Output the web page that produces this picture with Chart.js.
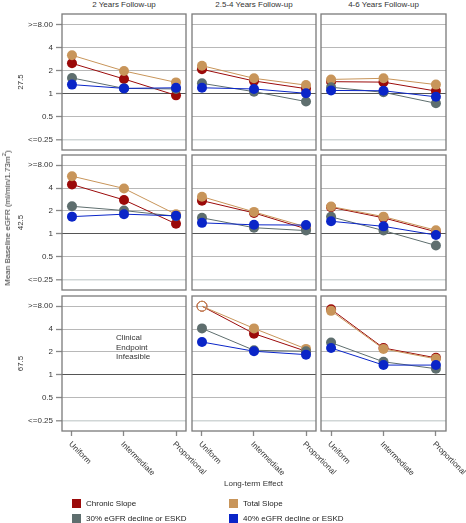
<!DOCTYPE html>
<html>
<head>
<meta charset="utf-8">
<script src="https://cdn.jsdelivr.net/npm/chart.js@4"></script>
<style>
  html, body { margin:0; padding:0; background:#fff; }
  body { width:466px; height:523px; position:relative; overflow:hidden; font-family:"Liberation Sans", Arial, sans-serif; color:#222; }
  .abs { position:absolute; white-space:nowrap; font-size:8px; line-height:10px; }
  canvas { position:absolute; }
</style>
</head>
<body>
<script>
// ---------- data ----------
const categories = ['Uniform', 'Intermediate', 'Proportional'];
const followUps = ['2 Years Follow-up', '2.5-4 Years Follow-up', '4-6 Years Follow-up'];
const baselines = ['27.5', '42.5', '67.5'];
const seriesNames = ['Chronic Slope', 'Total Slope', '30% eGFR decline or ESKD', '40% eGFR decline or ESKD'];
const yTicks = [0.25, 0.5, 1, 2, 4, 8];

// values per follow-up column: [2y, 2.5-4y, 4-6y], each [Uniform, Intermediate, Proportional]
const chronic275 = [[2.47, 1.54, 0.94], [2.06, 1.45, 1.15], [1.42, 1.40, 1.07]];
const total275   = [[3.15, 1.96, 1.39], [2.30, 1.57, 1.28], [1.52, 1.57, 1.30]];
const egfr30_275 = [[1.59, 1.16, 1.14], [1.35, 1.05, 0.78], [1.20, 1.03, 0.74]];
const egfr40_275 = [[1.30, 1.16, 1.18], [1.18, 1.14, 1.00], [1.09, 1.08, 0.90]];

const chronic425 = [[4.46, 2.79, 1.35], [2.73, 1.88, 1.16], [2.23, 1.62, 1.06]];
const total425   = [[5.74, 3.95, 1.80], [3.08, 1.94, 1.23], [2.28, 1.68, 1.11]];
const egfr30_425 = [[2.30, 2.02, 1.70], [1.62, 1.20, 1.10], [1.67, 1.10, 0.70]];
const egfr40_425 = [[1.68, 1.81, 1.72], [1.39, 1.31, 1.30], [1.46, 1.25, 0.96]];

const chronic675 = [null, [8, 3.48, 2.04], [7.30, 2.25, 1.67]];
const total675   = [null, [8, 4.08, 2.19], [6.95, 2.19, 1.62]];
const egfr30_675 = [null, [4.08, 2.10, 2.04], [2.65, 1.48, 1.20]];
const egfr40_675 = [null, [2.70, 2.04, 1.84], [2.25, 1.34, 1.34]];

const infeasibleText = ['Clinical', 'Endpoint', 'Infeasible'];

// ---------- styling / layout ----------
const colors = ['#9b0a0a', '#c8955a', '#5e6e6e', '#0a25c8'];
const rowData = [
  [chronic275, total275, egfr30_275, egfr40_275],
  [chronic425, total425, egfr30_425, egfr40_425],
  [chronic675, total675, egfr30_675, egfr40_675]
];
const colLeft = [62, 192, 321];
const colW = [124, 124, 125];
const rowTop = [14, 155, 296];
const rowH = [136, 135, 135];
const YW = 62;
const yMin = Math.pow(2, -2.465), yMax = Math.pow(2, 3.448);

Chart.defaults.font.family = '"Liberation Sans", Arial, sans-serif';
Chart.defaults.font.size = 8;
Chart.defaults.color = '#333';
Chart.defaults.animation = false;

function addText(txt, style) {
  const d = document.createElement('div');
  d.className = 'abs';
  d.textContent = txt;
  Object.assign(d.style, style);
  document.body.appendChild(d);
  return d;
}

const panelPlugin = {
  id: 'panel',
  afterDraw(chart, args, opts) {
    const {ctx, chartArea: a} = chart;
    ctx.save();
    ctx.strokeStyle = '#7a7a7a';
    ctx.lineWidth = 1.3;
    ctx.strokeRect(a.left, a.top, a.right - a.left, a.bottom - a.top);
    if (opts.xLabels) {
      const xs = chart.scales.x;
      ctx.fillStyle = '#333';
      ctx.font = '8px "Liberation Sans", Arial, sans-serif';
      ctx.textAlign = 'left';
      ctx.textBaseline = 'middle';
      categories.forEach((c, i) => {
        const px = xs.getPixelForValue(i);
        ctx.save();
        ctx.translate(px - 2, a.bottom + 12);
        ctx.rotate(Math.PI / 4);
        ctx.fillText(c, 0, 0);
        ctx.restore();
      });
    }
    ctx.restore();
  }
};

function makeChart(r, c) {
  const first = c === 0;
  const last = r === 2;
  const padL = first ? 0 : 1;
  const padB = last ? 60 : 1;
  const padR = last ? 45 : 1;
  const xh = last ? 5 : 0;
  const yw = first ? YW : 0;
  const cw = padL + yw + colW[c] + padR;
  const ch = 1 + rowH[r] + xh + padB;
  const cv = document.createElement('canvas');
  cv.width = cw; cv.height = ch;
  cv.style.width = cw + 'px'; cv.style.height = ch + 'px';
  cv.style.left = (colLeft[c] - yw - padL) + 'px';
  cv.style.top = (rowTop[r] - 1) + 'px';
  document.body.appendChild(cv);

  const series = rowData[r];
  const datasets = [];
  if (series[0][c]) {
    const orderIdx = [3, 2, 1, 0]; // first listed is drawn on top
    orderIdx.forEach(s => {
      const vals = series[s][c];
      datasets.push({
        label: seriesNames[s],
        data: vals.map((v, i) => ({x: i, y: v})),
        borderColor: colors[s],
        borderWidth: 1,
        pointRadius: 5,
        pointHoverRadius: 5,
        pointBorderWidth: vals.map(v => v >= 8 ? 1 : 0),
        pointBorderColor: colors[s],
        pointBackgroundColor: vals.map(v => v >= 8 ? 'rgba(255,255,255,0)' : colors[s]),
        tension: 0,
        clip: 6
      });
    });
  }

  new Chart(cv, {
    type: 'line',
    data: { datasets },
    options: {
      responsive: false,
      animation: false,
      layout: { autoPadding: false, padding: { left: padL, right: padR, top: 1, bottom: padB } },
      plugins: { legend: { display: false }, tooltip: { enabled: false }, panel: { xLabels: last } },
      scales: {
        x: {
          type: 'linear',
          min: -0.192, max: 2.192,
          display: last,
          afterBuildTicks: s => { s.ticks = categories.map((_, i) => ({value: i})); },
          afterFit: s => { s.height = xh; s.paddingLeft = 0; s.paddingRight = 0; },
          ticks: { display: false },
          grid: { drawOnChartArea: false, drawTicks: true, tickLength: 5, tickColor: '#888', tickWidth: 1.3 },
          border: { display: false }
        },
        y: {
          type: 'logarithmic',
          min: yMin, max: yMax,
          afterBuildTicks: s => { s.ticks = yTicks.map(v => ({value: v})); },
          afterFit: s => { s.width = yw; s.paddingTop = 0; s.paddingBottom = 0; },
          ticks: {
            display: first,
            padding: 3,
            color: '#333',
            font: { size: 8 },
            callback: v => v === 8 ? '>=8.00' : (v === 0.25 ? '<=0.25' : String(v))
          },
          title: {
            display: first,
            text: baselines[r],
            color: '#333',
            font: { size: 8 },
            padding: { top: 16, bottom: 0 }
          },
          grid: {
            drawTicks: first,
            tickLength: 6,
            tickColor: '#888',
            tickWidth: 1.3,
            color: ctx => ctx.tick && ctx.tick.value === 1 ? '#555' : (ctx.tick && ctx.tick.value === 0.25 ? '#d0d6d6' : '#b8b8b8'),
            lineWidth: ctx => ctx.tick && ctx.tick.value === 0.25 ? 1.6 : 1
          },
          border: { display: false }
        }
      }
    },
    plugins: [panelPlugin]
  });
}

for (let r = 0; r < 3; r++) for (let c = 0; c < 3; c++) makeChart(r, c);

// column titles
followUps.forEach((t, c) => {
  addText(t, { top: '0px', left: (colLeft[c] + colW[c] / 2) + 'px', transform: 'translateX(-50%)', color: '#333' });
});

// infeasible note
const note = addText('', { left: '116px', top: '333px', lineHeight: '9.7px', color: '#333' });
note.innerHTML = infeasibleText.join('<br>');

// y-axis title
const yt = document.createElement('div');
yt.className = 'abs';
yt.innerHTML = 'Mean Baseline eGFR (ml/min/1.73m<sup style="font-size:6px;line-height:0">2</sup>)';
Object.assign(yt.style, { left: '8px', top: '218px', transform: 'translate(-50%,-50%) rotate(-90deg)', color: '#333' });
document.body.appendChild(yt);

// x-axis title
addText('Long-term Effect', { left: '253.5px', top: '479px', transform: 'translateX(-50%)', color: '#333' });

// legend
const legPos = [[72, 499], [229, 499], [72, 514], [229, 514]];
seriesNames.forEach((n, i) => {
  const sq = document.createElement('div');
  Object.assign(sq.style, { position: 'absolute', left: legPos[i][0] + 'px', top: legPos[i][1] + 'px', width: '9px', height: '9px', background: colors[i] });
  document.body.appendChild(sq);
  addText(n, { left: (legPos[i][0] + 14) + 'px', top: (legPos[i][1] - 0.5) + 'px', color: '#222' });
});
</script>
</body>
</html>
